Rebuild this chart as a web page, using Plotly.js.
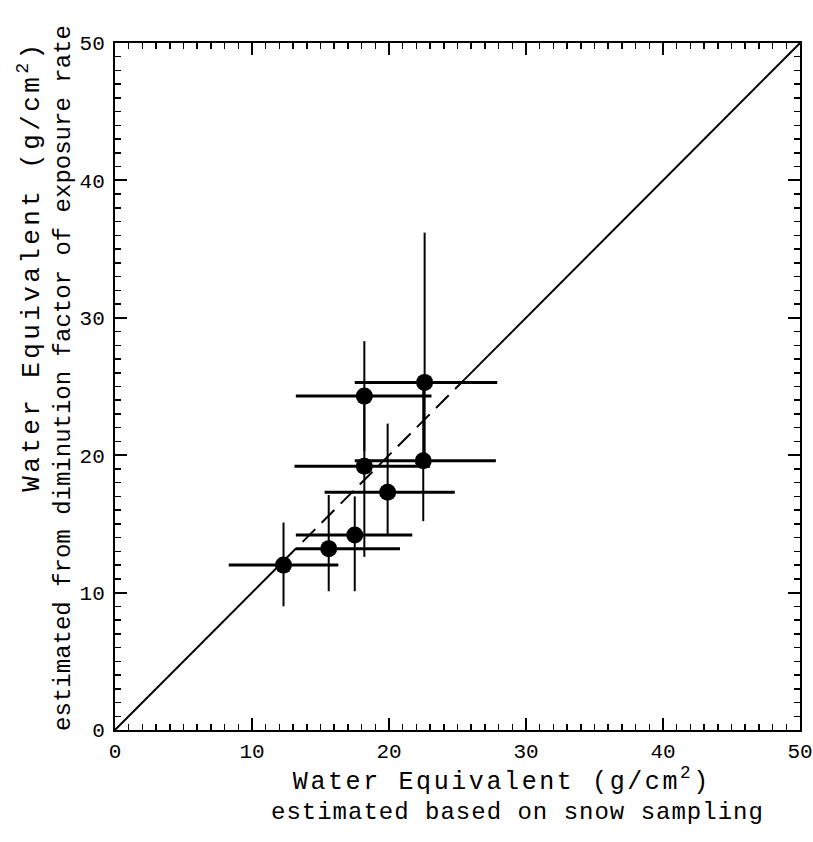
<!DOCTYPE html>
<html>
<head>
<meta charset="utf-8">
<script src="https://cdn.plot.ly/plotly-3.0.1.min.js"></script>
<style>
html,body{margin:0;padding:0;background:#fff;}
#chart{width:813px;height:842px;}
g.annotation[data-index="0"] text{letter-spacing:2.6px;}
g.annotation[data-index="1"] text{letter-spacing:1px;}
g.annotation[data-index="2"] text{letter-spacing:3.4px;}
</style>
</head>
<body>
<div id="chart"></div>
<script>
// Water equivalent: snow sampling (x) vs diminution factor of exposure rate (y)
var xVals      = [12.3, 15.6, 17.5, 18.2, 19.9, 18.2, 22.6, 22.5];
var yVals      = [12.0, 13.2, 14.2, 19.2, 17.3, 24.3, 25.3, 19.6];
var xErrMinus  = [4.0, 2.4, 4.3, 5.1, 4.6, 5.0, 5.1, 5.0];
var xErrPlus   = [4.0, 5.2, 4.2, 4.8, 4.9, 4.9, 5.3, 5.3];
var yErrMinus  = [3.0, 3.1, 4.1, 6.6, 3.1, 4.0, 5.7, 4.4];
var yErrPlus   = [3.1, 3.9, 2.8, 5.1, 5.0, 4.0, 10.9, 5.7];
// 1:1 line, drawn solid at the ends and dashed through the data cluster
var solidLow   = [0, 12.3];
var dashedMid  = [12.3, 25.5];
var solidHigh  = [25.5, 50];
var tickVals   = [0, 10, 20, 30, 40, 50];

var mono = "Liberation Mono, DejaVu Sans Mono, monospace";

var traces = [
  {x: solidLow, y: solidLow, mode: 'lines', line: {color: '#000', width: 2}, hoverinfo: 'skip'},
  {x: dashedMid, y: dashedMid, mode: 'lines', line: {color: '#000', width: 2, dash: '18px,9px'}, hoverinfo: 'skip'},
  {x: solidHigh, y: solidHigh, mode: 'lines', line: {color: '#000', width: 2}, hoverinfo: 'skip'},
  {
    x: xVals, y: yVals, mode: 'markers', type: 'scatter',
    marker: {color: '#000', size: 17, symbol: 'circle'},
    error_x: {type: 'data', symmetric: false, array: xErrPlus, arrayminus: xErrMinus, color: '#000', thickness: 3, width: 0},
    error_y: {type: 'data', symmetric: false, array: yErrPlus, arrayminus: yErrMinus, color: '#000', thickness: 2, width: 0}
  }
];

var axisCommon = {
  range: [0, 50], autorange: false,
  showline: true, linecolor: '#000', linewidth: 2, mirror: 'ticks',
  ticks: 'inside', ticklen: 12, tickwidth: 2, tickcolor: '#000',
  tickvals: tickVals, ticktext: tickVals.map(String),
  tickfont: {family: mono, size: 21, color: '#000'},
  ticklabeloverflow: 'allow',
  minor: {dtick: 1, ticks: 'inside', ticklen: 6, tickwidth: 1.5, tickcolor: '#000', showgrid: false},
  showgrid: false, zeroline: false
};

var xaxis = Object.assign({}, axisCommon, {ticklabelstandoff: 1});
var yaxis = Object.assign({}, axisCommon, {ticklabelstandoff: 4});

var layout = {
  width: 813, height: 842,
  margin: {l: 115, r: 13, t: 43, b: 112},
  paper_bgcolor: '#fff', plot_bgcolor: '#fff',
  showlegend: false,
  xaxis: xaxis, yaxis: yaxis,
  annotations: [
    {text: 'Water Equivalent (g/cm<sup>2</sup>)', xref: 'paper', yref: 'paper', x: 0.565, y: -0.0728,
     xanchor: 'center', yanchor: 'middle', showarrow: false, font: {family: mono, size: 25, color: '#000'}},
    {text: 'estimated based on snow sampling', xref: 'paper', yref: 'paper', x: 0.588, y: -0.1194,
     xanchor: 'center', yanchor: 'middle', showarrow: false, font: {family: mono, size: 24, color: '#000'}},
    {text: 'Water Equivalent (g/cm<sup>2</sup>)', xref: 'paper', yref: 'paper', x: -0.123, y: 0.675,
     xanchor: 'center', yanchor: 'middle', textangle: -90, showarrow: false, font: {family: mono, size: 26, color: '#000'}},
    {text: 'estimated from diminution factor of exposure rate', xref: 'paper', yref: 'paper', x: -0.075, y: 0.512,
     xanchor: 'center', yanchor: 'middle', textangle: -90, showarrow: false, font: {family: mono, size: 24, color: '#000'}}
  ]
};

Plotly.newPlot('chart', traces, layout, {staticPlot: true, displayModeBar: false});
</script>
</body>
</html>
